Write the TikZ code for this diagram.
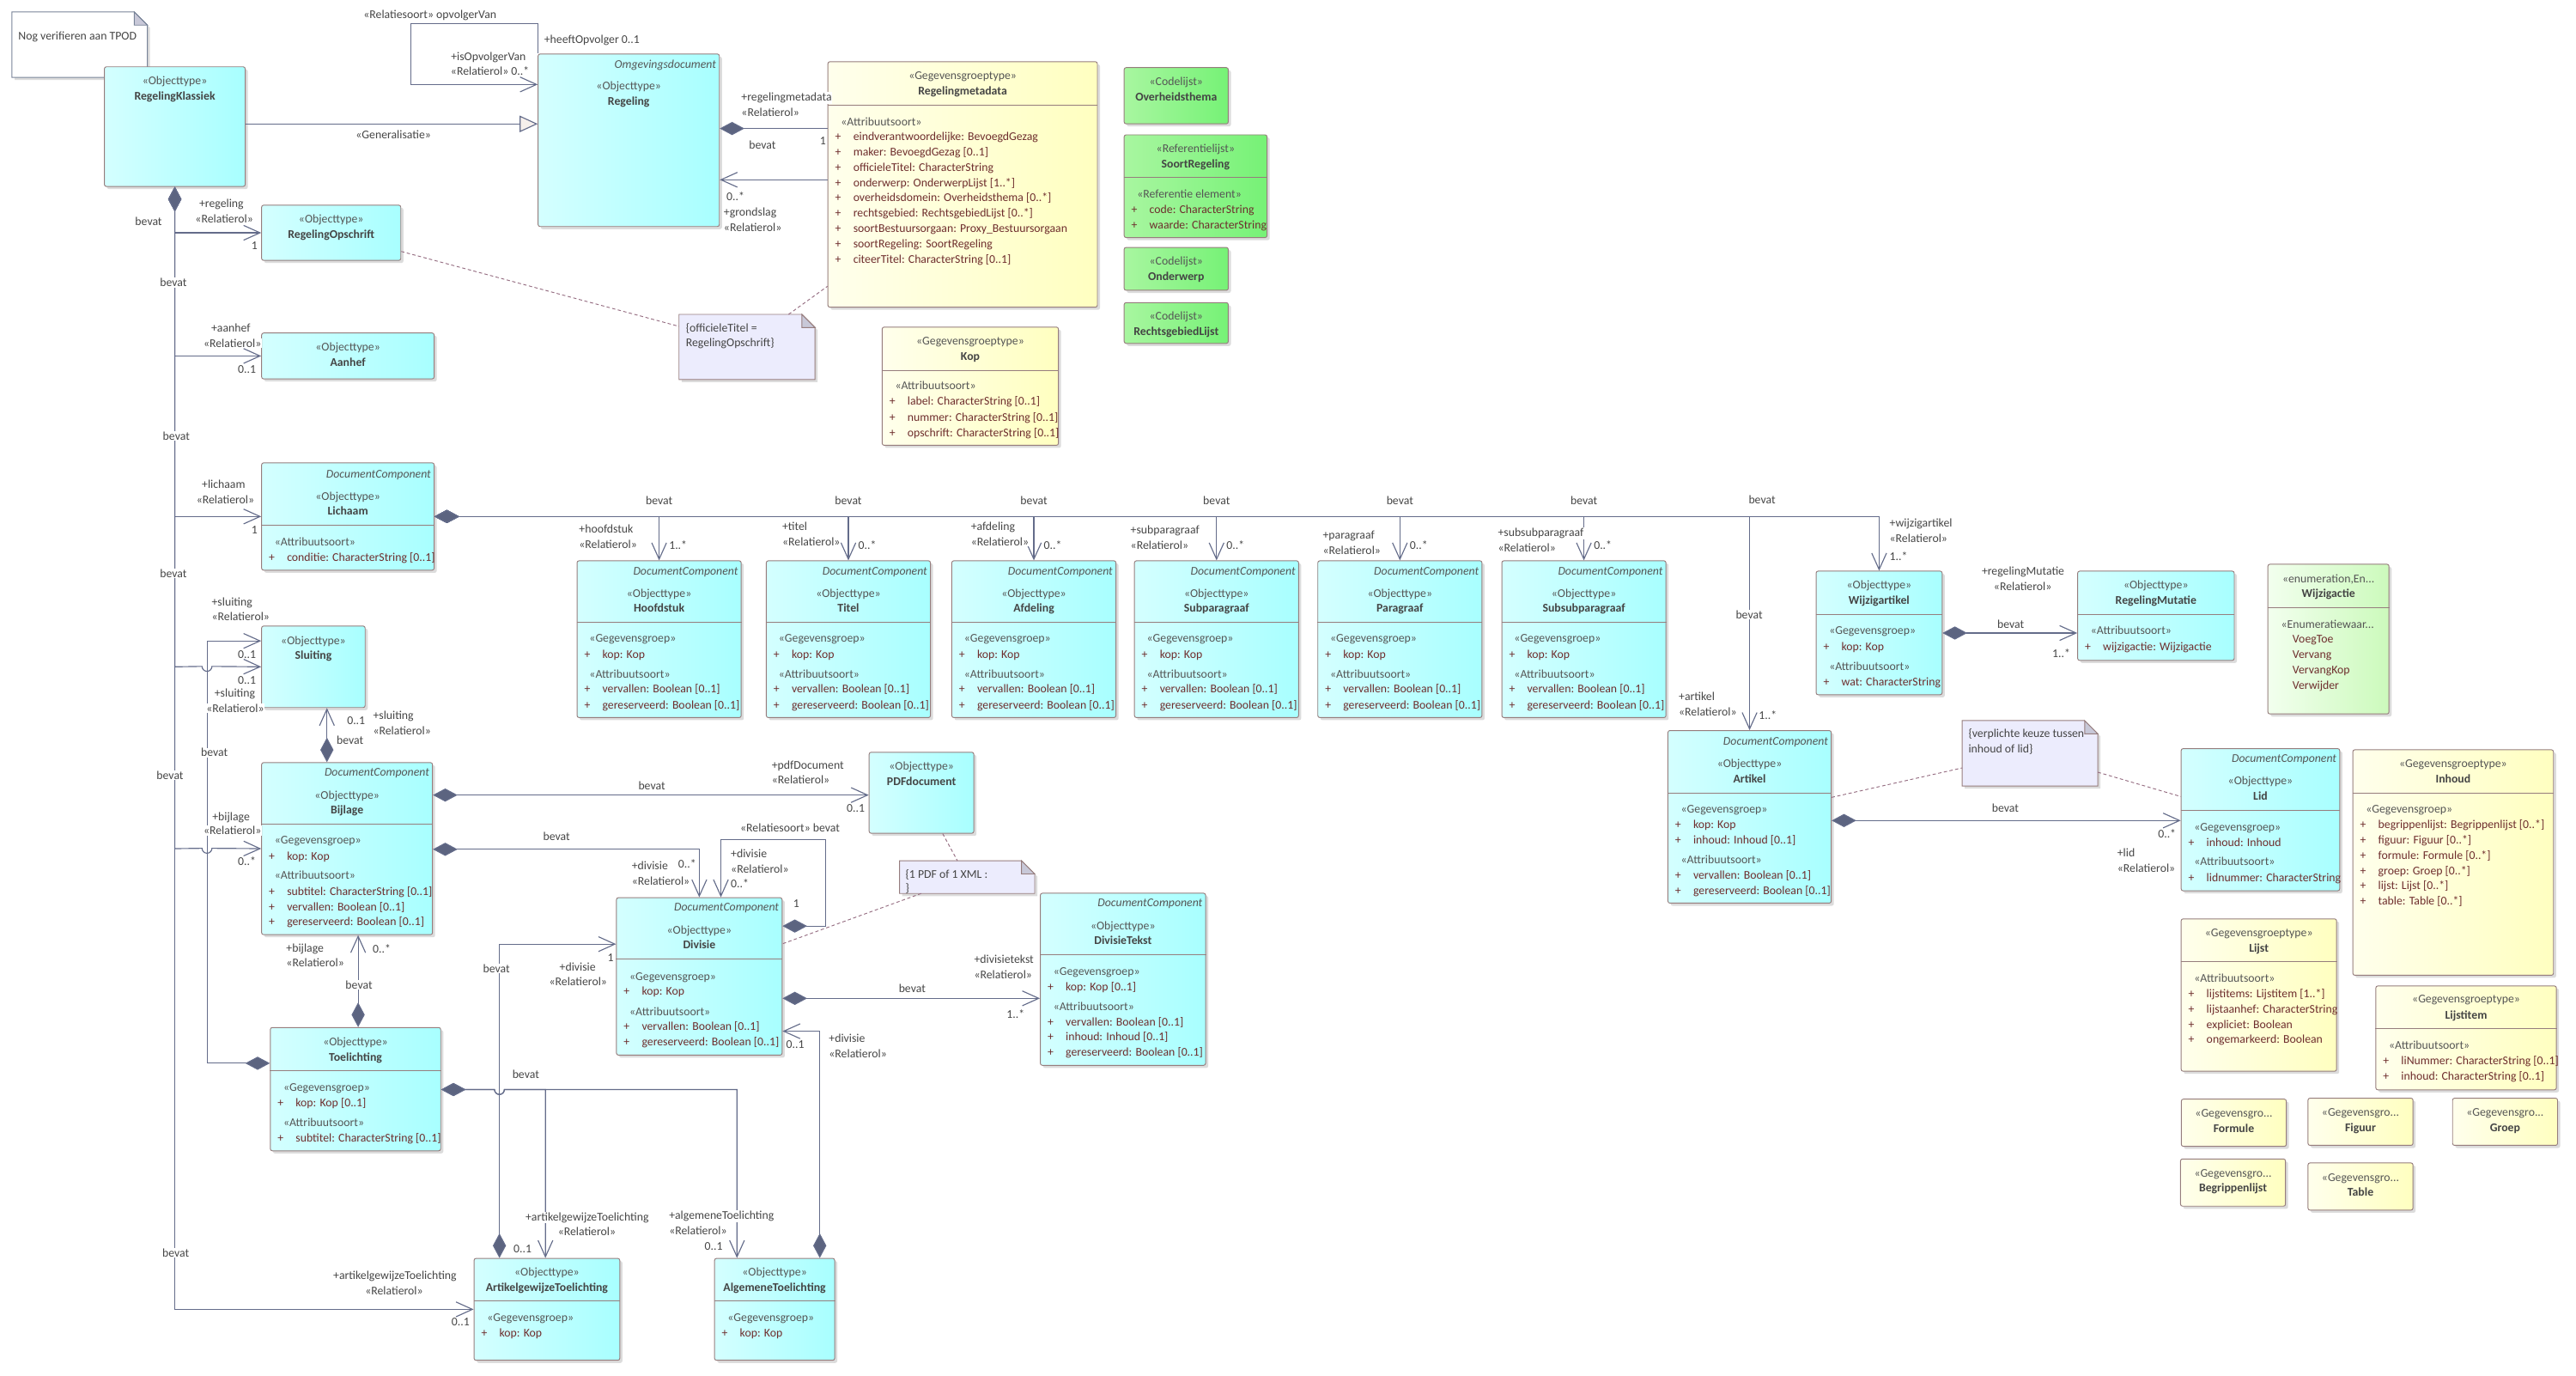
\documentclass[tikz,border=0pt]{standalone}
\usepackage{fontspec}
\setmainfont{Carlito}
\usetikzlibrary{arrows.meta,shadows}

\definecolor{cyanl}{RGB}{212,255,255}
\definecolor{cyanr}{RGB}{168,255,255}
\definecolor{yell}{RGB}{255,255,236}
\definecolor{yelr}{RGB}{255,255,192}
\definecolor{grnl}{RGB}{168,246,160}
\definecolor{grnr}{RGB}{118,242,118}
\definecolor{enml}{RGB}{242,255,238}
\definecolor{enmr}{RGB}{204,250,188}
\definecolor{notef}{RGB}{236,236,253}
\definecolor{foldf}{RGB}{200,200,216}
\definecolor{borderc}{RGB}{150,125,125}
\definecolor{tpodc}{RGB}{120,132,152}
\definecolor{linec}{RGB}{100,108,138}
\definecolor{diac}{RGB}{92,100,128}
\definecolor{genf}{RGB}{246,240,236}
\definecolor{stc}{RGB}{85,85,85}
\definecolor{namec}{RGB}{68,68,68}
\definecolor{attrc}{RGB}{110,45,45}
\definecolor{labelc}{RGB}{70,70,70}
\definecolor{dashc}{RGB}{150,110,130}

% attribute row: box left, y, text
\newcommand{\attrline}[3]{\node[attr] at (#1+4.5,#2) {+}; \node[attr] at (#1+15.5,#2) {#3};}
% note with folded corner: node, fill, border
\newcommand{\notefold}[3]{%
  \draw[draw=#3, fill=#2, line width=0.5pt, drop shadow={shadow xshift=1.6pt, shadow yshift=-1.6pt, opacity=0.3, fill=black!45}]
    (#1.south west) -- (#1.north west) -- ([xshift=-8pt]#1.north east) -- ([yshift=-8pt]#1.north east) -- (#1.south east) -- cycle;
  \draw[draw=#3, fill=foldf, line width=0.5pt]
    ([xshift=-8pt]#1.north east) -- ([xshift=-8pt,yshift=-8pt]#1.north east) -- ([yshift=-8pt]#1.north east) -- cycle;}

\begin{document}
\begin{tikzpicture}[x=1pt,y=-1pt,
  fsz/.style={font=\fontsize{7.2pt}{9pt}\selectfont},
  boxbase/.style={draw=borderc, line width=0.5pt, rounded corners=1.2pt, anchor=north west, inner sep=0pt,
    drop shadow={shadow xshift=1.6pt, shadow yshift=-1.6pt, opacity=0.3, fill=black!45}},
  cbox/.style={boxbase, left color=cyanl, right color=cyanr},
  ybox/.style={boxbase, left color=yell, right color=yelr},
  gbox/.style={boxbase, left color=grnl, right color=grnr},
  ebox/.style={boxbase, left color=enml, right color=enmr},
  notebox/.style={anchor=north west, inner sep=0pt},
  sep/.style={draw=borderc, line width=0.5pt},
  stereo/.style={fsz, inner sep=0pt, text=stc, anchor=mid},
  cname/.style={inner sep=0pt, text=namec, font=\fontsize{7.2pt}{9pt}\selectfont\bfseries, anchor=mid},
  dcomp/.style={inner sep=0pt, text=stc, font=\fontsize{7.2pt}{9pt}\selectfont\itshape, anchor=mid east, xshift=-2pt},
  cst/.style={fsz, inner sep=0pt, text=stc, anchor=mid west},
  attr/.style={fsz, inner sep=0pt, text=attrc, anchor=mid west},
  lbl/.style={fsz, inner sep=0.4pt, text=labelc, fill=white, anchor=mid west},
  lblmid/.style={lbl, anchor=mid},
  link/.style={draw=linec, line width=0.6pt},
  assoc/.style={link, -{Straight Barb[length=10pt,width=9pt]}},
  comp/.style={link, {Diamond[length=15pt,width=8pt,fill=diac]}-{Straight Barb[length=10pt,width=9pt]}},
  componly/.style={link, {Diamond[length=15pt,width=8pt,fill=diac]}-},
  gen/.style={link, -{Triangle[length=11pt,width=10pt,fill=genf]}},
  notelink/.style={draw=dashc, line width=0.5pt, dash pattern=on 2pt off 1.5pt}]
\useasboundingbox (0,0) rectangle (1568,837);

%% top row
\node[notebox, minimum width=82pt, minimum height=39.4pt] (tpod) at (7.3,7.3) {};
\notefold{tpod}{white}{tpodc}
\node[cst, text=namec] at (11,21.8) {Nog verifieren aan TPOD};

\node[cbox, minimum width=85.7pt, minimum height=72.8pt] (klassiek) at (63.3,40.4) {};
\node[stereo] at (klassiek.north |- 0,49.1) {«Objecttype»};
\node[cname] at (klassiek.north |- 0,58.4) {RegelingKlassiek};

\node[cbox, minimum width=110.3pt, minimum height=105pt] (regeling) at (327.3,32.6) {};
\node[dcomp] at (regeling.east |- 0,39.2) {Omgevingsdocument};
\node[stereo] at (regeling.north |- 0,52.4) {«Objecttype»};
\node[cname] at (regeling.north |- 0,61.5) {Regeling};

\node[ybox, minimum width=164pt, minimum height=149.4pt] (metadata) at (503.7,37.3) {};
\draw[sep] (metadata.west |- 0,64) -- (metadata.east |- 0,64);
\node[stereo] at (metadata.north |- 0,45.7) {«Gegevensgroeptype»};
\node[cname] at (metadata.north |- 0,55.3) {Regelingmetadata};
\node[cst] at (511.7,74.1) {«Attribuutsoort»};
\attrline{503.7}{83.1}{eindverantwoordelijke: BevoegdGezag}
\attrline{503.7}{92.4}{maker: BevoegdGezag [0..1]}
\attrline{503.7}{101.7}{officieleTitel: CharacterString}
\attrline{503.7}{111.1}{onderwerp: OnderwerpLijst [1..*]}
\attrline{503.7}{120.4}{overheidsdomein: Overheidsthema [0..*]}
\attrline{503.7}{129.7}{rechtsgebied: RechtsgebiedLijst [0..*]}
\attrline{503.7}{139.0}{soortBestuursorgaan: Proxy\_Bestuursorgaan}
\attrline{503.7}{148.4}{soortRegeling: SoortRegeling}
\attrline{503.7}{157.7}{citeerTitel: CharacterString [0..1]}

\node[gbox, minimum width=63.4pt, minimum height=34.2pt] (overheidsthema) at (684,40.9) {};
\node[stereo] at (overheidsthema.north |- 0,49.5) {«Codelijst»};
\node[cname] at (overheidsthema.north |- 0,59) {Overheidsthema};
\node[gbox, minimum width=87pt, minimum height=62.5pt] (soortregeling) at (684,81.8) {};
\draw[sep] (soortregeling.west |- 0,107.9) -- (soortregeling.east |- 0,107.9);
\node[stereo] at (soortregeling.north |- 0,90.3) {«Referentielijst»};
\node[cname] at (soortregeling.north |- 0,99.9) {SoortRegeling};
\node[cst] at (692,118) {«Referentie element»};
\attrline{684}{127.5}{code: CharacterString}
\attrline{684}{136.8}{waarde: CharacterString}
\node[gbox, minimum width=63.4pt, minimum height=26.1pt] (onderwerp) at (684,150.3) {};
\node[stereo] at (onderwerp.north |- 0,158.7) {«Codelijst»};
\node[cname] at (onderwerp.north |- 0,168.2) {Onderwerp};
\node[gbox, minimum width=63.4pt, minimum height=24.8pt] (rechtsgebied) at (684,183.9) {};
\node[stereo] at (rechtsgebied.north |- 0,192.3) {«Codelijst»};
\node[cname] at (rechtsgebied.north |- 0,201.6) {RechtsgebiedLijst};

\node[ybox, minimum width=107.3pt, minimum height=71.9pt] (kop) at (536.7,198.8) {};
\draw[sep] (kop.west |- 0,225.5) -- (kop.east |- 0,225.5);
\node[stereo] at (kop.north |- 0,207.4) {«Gegevensgroeptype»};
\node[cname] at (kop.north |- 0,216.9) {Kop};
\node[cst] at (544.7,234.8) {«Attribuutsoort»};
\attrline{536.7}{244.3}{label: CharacterString [0..1]}
\attrline{536.7}{253.9}{nummer: CharacterString [0..1]}
\attrline{536.7}{263.4}{opschrift: CharacterString [0..1]}

\node[notebox, minimum width=82.4pt, minimum height=39.2pt] (onote) at (413.3,191.3) {};
\notefold{onote}{notef}{borderc}
\node[cst, text=namec] at (417.3,199.5) {\{officieleTitel =};
\node[cst, text=namec] at (417.3,208.7) {RegelingOpschrift\}};

%% left column
\node[cbox, minimum width=84.7pt, minimum height=33.6pt] (opschrift) at (159,124.6) {};
\node[stereo] at (opschrift.north |- 0,133.3) {«Objecttype»};
\node[cname] at (opschrift.north |- 0,142.5) {RegelingOpschrift};

\node[cbox, minimum width=105pt, minimum height=27.9pt] (aanhef) at (159,202.4) {};
\node[stereo] at (aanhef.north |- 0,211) {«Objecttype»};
\node[cname] at (aanhef.north |- 0,220.4) {Aanhef};

\node[cbox, minimum width=105pt, minimum height=65.3pt] (lichaam) at (159,281.4) {};
\draw[sep] (lichaam.west |- 0,319.5) -- (lichaam.east |- 0,319.5);
\node[dcomp] at (lichaam.east |- 0,288.3) {DocumentComponent};
\node[stereo] at (lichaam.north |- 0,301.9) {«Objecttype»};
\node[cname] at (lichaam.north |- 0,311) {Lichaam};
\node[cst] at (167,329.6) {«Attribuutsoort»};
\attrline{159}{339.2}{conditie: CharacterString [0..1]}

\node[cbox, minimum width=63pt, minimum height=49.6pt] (sluiting) at (159,380.7) {};
\node[stereo] at (sluiting.north |- 0,389.7) {«Objecttype»};
\node[cname] at (sluiting.north |- 0,398.6) {Sluiting};

\node[cbox, minimum width=104pt, minimum height=104.7pt] (bijlage) at (159,463.8) {};
\draw[sep] (bijlage.west |- 0,501.3) -- (bijlage.east |- 0,501.3);
\node[dcomp] at (bijlage.east |- 0,470) {DocumentComponent};
\node[stereo] at (bijlage.north |- 0,483.8) {«Objecttype»};
\node[cname] at (bijlage.north |- 0,493) {Bijlage};
\node[cst] at (167,511.3) {«Gegevensgroep»};
\attrline{159}{521}{kop: Kop}
\node[cst] at (167,532.8) {«Attribuutsoort»};
\attrline{159}{542.3}{subtitel: CharacterString [0..1]}
\attrline{159}{551.8}{vervallen: Boolean [0..1]}
\attrline{159}{561}{gereserveerd: Boolean [0..1]}

\node[cbox, minimum width=103.7pt, minimum height=75pt] (toelichting) at (164.3,625) {};
\draw[sep] (toelichting.west |- 0,651.3) -- (toelichting.east |- 0,651.3);
\node[stereo] at (toelichting.north |- 0,633.8) {«Objecttype»};
\node[cname] at (toelichting.north |- 0,643.3) {Toelichting};
\node[cst] at (172.3,661.5) {«Gegevensgroep»};
\attrline{164.3}{671}{kop: Kop [0..1]}
\node[cst] at (172.3,683) {«Attribuutsoort»};
\attrline{164.3}{692.5}{subtitel: CharacterString [0..1]}

\node[cbox, minimum width=100.8pt, minimum height=95.8pt] (divisie) at (375,546) {};
\draw[sep] (divisie.west |- 0,583.8) -- (divisie.east |- 0,583.8);
\node[dcomp] at (divisie.east |- 0,552) {DocumentComponent};
\node[stereo] at (divisie.north |- 0,566) {«Objecttype»};
\node[cname] at (divisie.north |- 0,575) {Divisie};
\node[cst] at (383,594.3) {«Gegevensgroep»};
\attrline{375}{603}{kop: Kop}
\node[cst] at (383,615.5) {«Attribuutsoort»};
\attrline{375}{624.3}{vervallen: Boolean [0..1]}
\attrline{375}{633.8}{gereserveerd: Boolean [0..1]}

\node[cbox, minimum width=63.7pt, minimum height=49.3pt] (pdf) at (528.8,457.5) {};
\node[stereo] at (pdf.north |- 0,466) {«Objecttype»};
\node[cname] at (pdf.north |- 0,475.5) {PDFdocument};

\node[notebox, minimum width=81.9pt, minimum height=19.5pt] (pdfnote) at (547.5,523.8) {};
\notefold{pdfnote}{notef}{borderc}
\node[cst, text=namec] at (551,531.8) {\{1 PDF of 1 XML :};
\node[cst, text=namec] at (551,540.3) {\}};

\node[cbox, minimum width=100.6pt, minimum height=104.7pt] (divtekst) at (633,543.3) {};
\draw[sep] (divtekst.west |- 0,581) -- (divtekst.east |- 0,581);
\node[dcomp] at (divtekst.east |- 0,549.5) {DocumentComponent};
\node[stereo] at (divtekst.north |- 0,563.3) {«Objecttype»};
\node[cname] at (divtekst.north |- 0,572.5) {DivisieTekst};
\node[cst] at (641,591) {«Gegevensgroep»};
\attrline{633}{600.3}{kop: Kop [0..1]}
\node[cst] at (641,612.3) {«Attribuutsoort»};
\attrline{633}{621.8}{vervallen: Boolean [0..1]}
\attrline{633}{631}{inhoud: Inhoud [0..1]}
\attrline{633}{640}{gereserveerd: Boolean [0..1]}

\node[cbox, minimum width=88.7pt, minimum height=62pt] (artgewijze) at (288.3,765.5) {};
\draw[sep] (artgewijze.west |- 0,791.3) -- (artgewijze.east |- 0,791.3);
\node[stereo] at (artgewijze.north |- 0,773.8) {«Objecttype»};
\node[cname] at (artgewijze.north |- 0,783.3) {ArtikelgewijzeToelichting};
\node[cst] at (296.3,801.8) {«Gegevensgroep»};
\attrline{288.3}{811}{kop: Kop}

\node[cbox, minimum width=73.1pt, minimum height=62pt] (algemene) at (434.7,765.5) {};
\draw[sep] (algemene.west |- 0,791.3) -- (algemene.east |- 0,791.3);
\node[stereo] at (algemene.north |- 0,773.8) {«Objecttype»};
\node[cname] at (algemene.north |- 0,783.3) {AlgemeneToelichting};
\node[cst] at (442.7,801.8) {«Gegevensgroep»};
\attrline{434.7}{811}{kop: Kop}

%% document components under Lichaam
\foreach \nm/\xx/\ttl in {hoofdstuk/351/Hoofdstuk, titel/466.2/Titel, afdeling/579.1/Afdeling,
    subparagraaf/690.3/Subparagraaf, paragraaf/801.9/Paragraaf, subsubparagraaf/913.9/Subsubparagraaf}{
  \node[cbox, minimum width=99.9pt, minimum height=95.4pt] (\nm) at (\xx,341) {};
  \draw[sep] (\nm.west |- 0,378.4) -- (\nm.east |- 0,378.4);
  \node[dcomp] at (\nm.east |- 0,347.6) {DocumentComponent};
  \node[stereo] at (\nm.north |- 0,361) {«Objecttype»};
  \node[cname] at (\nm.north |- 0,370.2) {\ttl};
  \node[cst] at (\xx+7.6,388.5) {«Gegevensgroep»};
  \attrline{\xx}{398.1}{kop: Kop}
  \node[cst] at (\xx+7.6,410.3) {«Attribuutsoort»};
  \attrline{\xx}{419.4}{vervallen: Boolean [0..1]}
  \attrline{\xx}{429}{gereserveerd: Boolean [0..1]}
}

%% right part
\node[cbox, minimum width=76.7pt, minimum height=75.2pt] (wijzig) at (1105.2,347.3) {};
\draw[sep] (wijzig.west |- 0,374.1) -- (wijzig.east |- 0,374.1);
\node[stereo] at (wijzig.north |- 0,355.8) {«Objecttype»};
\node[cname] at (wijzig.north |- 0,365.2) {Wijzigartikel};
\node[cst] at (1113.2,383.8) {«Gegevensgroep»};
\attrline{1105.2}{393.4}{kop: Kop}
\node[cst] at (1113.2,405.4) {«Attribuutsoort»};
\attrline{1105.2}{415}{wat: CharacterString}

\node[cbox, minimum width=95.3pt, minimum height=54.3pt] (mutatie) at (1264.4,347.3) {};
\draw[sep] (mutatie.west |- 0,374.1) -- (mutatie.east |- 0,374.1);
\node[stereo] at (mutatie.north |- 0,355.8) {«Objecttype»};
\node[cname] at (mutatie.north |- 0,365.2) {RegelingMutatie};
\node[cst] at (1272.4,383.8) {«Attribuutsoort»};
\attrline{1264.4}{393.4}{wijzigactie: Wijzigactie}

\node[ebox, minimum width=73.7pt, minimum height=91.1pt] (wijzigactie) at (1380.2,343.1) {};
\draw[sep] (wijzigactie.west |- 0,369.7) -- (wijzigactie.east |- 0,369.7);
\node[stereo] at (wijzigactie.north |- 0,352) {«enumeration,En...};
\node[cname] at (wijzigactie.north |- 0,361.2) {Wijzigactie};
\node[cst] at (1388.3,380) {«Enumeratiewaar...};
\node[attr] at (1395.3,388.7) {VoegToe};
\node[attr] at (1395.3,398.3) {Vervang};
\node[attr] at (1395.3,407.7) {VervangKop};
\node[attr] at (1395.3,417) {Verwijder};

\node[cbox, minimum width=99.4pt, minimum height=105pt] (artikel) at (1015,444.3) {};
\draw[sep] (artikel.west |- 0,482.6) -- (artikel.east |- 0,482.6);
\node[dcomp] at (artikel.east |- 0,450.9) {DocumentComponent};
\node[stereo] at (artikel.north |- 0,464.5) {«Objecttype»};
\node[cname] at (artikel.north |- 0,473.9) {Artikel};
\node[cst] at (1023,492.2) {«Gegevensgroep»};
\attrline{1015}{501.8}{kop: Kop}
\attrline{1015}{511}{inhoud: Inhoud [0..1]}
\node[cst] at (1023,523) {«Attribuutsoort»};
\attrline{1015}{532.6}{vervallen: Boolean [0..1]}
\attrline{1015}{542}{gereserveerd: Boolean [0..1]}

\node[notebox, minimum width=82.2pt, minimum height=39.4pt] (knote) at (1194.3,438.5) {};
\notefold{knote}{notef}{borderc}
\node[cst, text=namec] at (1198,446.5) {\{verplichte keuze tussen};
\node[cst, text=namec] at (1198,455.9) {inhoud of lid\}};

\node[cbox, minimum width=96.5pt, minimum height=86.5pt] (lid) at (1327.4,455.3) {};
\draw[sep] (lid.west |- 0,493) -- (lid.east |- 0,493);
\node[dcomp] at (lid.east |- 0,461.7) {DocumentComponent};
\node[stereo] at (lid.north |- 0,475.3) {«Objecttype»};
\node[cname] at (lid.north |- 0,484.3) {Lid};
\node[cst] at (1335.4,503.2) {«Gegevensgroep»};
\attrline{1327.4}{512.6}{inhoud: Inhoud}
\node[cst] at (1335.4,524.4) {«Attribuutsoort»};
\attrline{1327.4}{534}{lidnummer: CharacterString}

\node[ybox, minimum width=122.1pt, minimum height=137.2pt] (inhoud) at (1431.9,456) {};
\draw[sep] (inhoud.west |- 0,482.6) -- (inhoud.east |- 0,482.6);
\node[stereo] at (inhoud.north |- 0,464.7) {«Gegevensgroeptype»};
\node[cname] at (inhoud.north |- 0,473.9) {Inhoud};
\node[cst] at (1439.9,492.2) {«Gegevensgroep»};
\attrline{1431.9}{501.8}{begrippenlijst: Begrippenlijst [0..*]}
\attrline{1431.9}{511}{figuur: Figuur [0..*]}
\attrline{1431.9}{520.4}{formule: Formule [0..*]}
\attrline{1431.9}{529.8}{groep: Groep [0..*]}
\attrline{1431.9}{538.9}{lijst: Lijst [0..*]}
\attrline{1431.9}{548.1}{table: Table [0..*]}

\node[ybox, minimum width=94.6pt, minimum height=92.7pt] (lijst) at (1327.4,558.9) {};
\draw[sep] (lijst.west |- 0,585) -- (lijst.east |- 0,585);
\node[stereo] at (lijst.north |- 0,567.4) {«Gegevensgroeptype»};
\node[cname] at (lijst.north |- 0,576.8) {Lijst};
\node[cst] at (1335.4,595.3) {«Attribuutsoort»};
\attrline{1327.4}{604.5}{lijstitems: Lijstitem [1..*]}
\attrline{1327.4}{614}{lijstaanhef: CharacterString}
\attrline{1327.4}{623.4}{expliciet: Boolean}
\attrline{1327.4}{632.4}{ongemarkeerd: Boolean}

\node[ybox, minimum width=109.9pt, minimum height=63.2pt] (lijstitem) at (1445.9,599.7) {};
\draw[sep] (lijstitem.west |- 0,626) -- (lijstitem.east |- 0,626);
\node[stereo] at (lijstitem.north |- 0,608) {«Gegevensgroeptype»};
\node[cname] at (lijstitem.north |- 0,617.6) {Lijstitem};
\node[cst] at (1453.9,635.9) {«Attribuutsoort»};
\attrline{1445.9}{645.5}{liNummer: CharacterString [0..1]}
\attrline{1445.9}{654.7}{inhoud: CharacterString [0..1]}

\foreach \nm/\xx/\yy/\ttl in {formule/1327.5/668.6/Formule, figuur/1404.6/668/Figuur, groep/1492.6/668/Groep,
    begrippenlijst/1327/705/Begrippenlijst, table/1404.6/707.4/Table}{
  \node[ybox, minimum width=63.9pt, minimum height=28.7pt] (\nm) at (\xx,\yy) {};
  \node[stereo] at (\nm.north |- 0,\yy+8.9) {«Gegevensgro...};
  \node[cname] at (\nm.north |- 0,\yy+18) {\ttl};
}

%% connectors
\draw[gen] (klassiek.east |- 0,75.4) -- (regeling.west |- 0,75.4);
\draw[assoc] (regeling.north west) -- (327.3,14.3) -- (250,14.3) -- (250,51.4) -- (regeling.west |- 0,51.4);
\draw[componly] (regeling.east |- 0,78.2) -- (metadata.west |- 0,78.2);
\draw[assoc] (metadata.west |- 0,109.4) -- (regeling.east |- 0,109.4);

\draw[comp] (klassiek.south) |- (opschrift.west);
\draw[comp] (klassiek.south) |- (aanhef.west);
\draw[comp] (klassiek.south) |- (lichaam.west);
\draw[comp] (klassiek.south) -- (klassiek.south |- sluiting.west) -- (123,405.5) arc(180:0:3) -- (sluiting.west);
\draw[comp] (klassiek.south) -- (klassiek.south |- bijlage.west) -- (123,516.2) arc(180:0:3) -- (bijlage.west);
\draw[comp] (klassiek.south) |- (artgewijze.west);

\draw[comp] (toelichting.west |- 0,647) -- (126,647) -- (126,390) -- (sluiting.west |- 0,390);
\draw[comp] (toelichting.north -| 218,0) -- (bijlage.south -| 218,0);
\draw[comp] (bijlage.north -| 199,0) -- (sluiting.south -| 199,0);
\draw[comp] (bijlage.east |- 0,483.8) -- (pdf.west |- 0,483.8);
\draw[comp] (bijlage.east |- 0,516.8) -| (divisie.north);
\draw[comp] (divisie.east |- 0,563.5) -- (502.7,563.5) -- (502.7,511) -- (438.8,511) -- (divisie.north -| 438.8,0);
\draw[comp] (divisie.east |- 0,607.5) -- (divtekst.west |- 0,607.5);
\draw[comp] (artgewijze.north -| 304,0) -- (304,574.5) -- (divisie.west |- 0,574.5);
\draw[comp] (algemene.north -| 499,0) -- (499,627.5) -- (divisie.east |- 0,627.5);
\draw[comp] (toelichting.east |- 0,663) -- (301,663) arc(180:0:3) -- (332,663) -- (artgewijze.north -| 332,0);
\draw[comp] (toelichting.east |- 0,663) -- (301,663) arc(180:0:3) -- (448.6,663) -- (algemene.north -| 448.6,0);

\draw[comp] (lichaam.east) -| (artikel.north);
\draw[comp] (lichaam.east) -| (wijzig.north);
\draw[comp] (wijzig.east |- 0,385.2) -- (mutatie.west |- 0,385.2);
\draw[comp] (artikel.east |- 0,499.3) -- (lid.west |- 0,499.3);

\draw[notelink] (opschrift.east |- 0,153) -- (onote.west |- 0,198.6);
\draw[notelink] (onote.north -| 480,0) -- (metadata.west |- 0,174.2);
\draw[notelink] (pdf.south -| 573.8,0) -- (pdfnote.north -| 582.8,0);
\draw[notelink] (pdfnote.south -| 560.7,0) -- (divisie.east |- 0,574.3);
\draw[notelink] (artikel.east |- 0,485.2) -- (knote.west |- 0,467.3);
\draw[notelink] (knote.east |- 0,469.9) -- (lid.west |- 0,484.7);

\foreach \nm/\role/\rx/\ry/\mult in {hoofdstuk/hoofdstuk/351.9/322/1..*, titel/titel/475.6/320.6/0..*,
    afdeling/afdeling/590.4/320.2/0..*, subparagraaf/subparagraaf/687.6/322.3/0..*,
    paragraaf/paragraaf/804.6/325.5/0..*, subsubparagraaf/subsubparagraaf/911.2/324.1/0..*}{
  \draw[comp] (lichaam.east) -| (\nm.north);
  \node[lblmid] at (\nm.north |- 0,304.6) {bevat};
  \node[lbl] at (\rx,\ry) {+\role};
  \node[lbl] at (\rx,\ry+9.4) {«Relatierol»};
  \node[lbl, xshift=5.5pt] at (\nm.north |- 0,331.9) {\mult};
}

%% labels
\node[lbl] at (220.7,8.7) {«Relatiesoort» opvolgerVan};
\node[lbl] at (330.7,23.9) {+heeftOpvolger 0..1};
\node[lbl, anchor=mid east] at (320.7,34.3) {+isOpvolgerVan};
\node[lbl, anchor=mid east] at (322.7,43.6) {«Relatierol» 0..*};
\node[lbl] at (216,81.9) {«Generalisatie»};
\node[lbl] at (450.7,59.2) {+regelingmetadata};
\node[lbl] at (450.7,68.3) {«Relatierol»};
\node[lbl] at (455.3,88.5) {bevat};
\node[lbl] at (498.5,85.9) {1};
\node[lbl] at (441.7,119.9) {0..*};
\node[lbl] at (440,128.9) {+grondslag};
\node[lbl] at (440,138.3) {«Relatierol»};

\node[lbl] at (120.7,124) {+regeling};
\node[lbl] at (118.3,133.3) {«Relatierol»};
\node[lbl] at (152.5,149.3) {1};
\node[lbl] at (81.7,135) {bevat};
\node[lblmid] at (105.5,172) {bevat};
\node[lbl] at (128,199.5) {+aanhef};
\node[lbl] at (123.3,208.9) {«Relatierol»};
\node[lbl] at (144.3,224.5) {0..1};
\node[lblmid] at (107.3,265.3) {bevat};
\node[lbl] at (122.3,294.6) {+lichaam};
\node[lbl] at (119,304) {«Relatierol»};
\node[lbl] at (152.5,322.3) {1};
\node[lblmid] at (105.5,349) {bevat};
\node[lbl] at (128.3,366.4) {+sluiting};
\node[lbl] at (128.3,375.1) {«Relatierol»};
\node[lbl] at (144.3,398.1) {0..1};
\node[lbl] at (144.3,413.8) {0..1};
\node[lbl] at (130,421.6) {+sluiting};
\node[lbl] at (125,431) {«Relatierol»};
\node[lbl] at (210.7,438.7) {0..1};
\node[lbl] at (226.5,435.2) {+sluiting};
\node[lbl] at (226.5,444.6) {«Relatierol»};
\node[lbl] at (204.3,450.5) {bevat};
\node[lblmid] at (130.5,458) {bevat};
\node[lblmid] at (103.5,471.8) {bevat};
\node[lbl] at (128.7,497) {+bijlage};
\node[lbl] at (123.3,505.5) {«Relatierol»};
\node[lbl] at (144.3,524.3) {0..*};
\node[lbl] at (173.7,577) {+bijlage};
\node[lbl] at (173.7,586) {«Relatierol»};
\node[lbl] at (226.3,577.3) {0..*};
\node[lblmid] at (218.5,599.3) {bevat};
\node[lbl] at (388,478) {bevat};
\node[lbl] at (469.2,465.5) {+pdfDocument};
\node[lbl] at (469.2,474.3) {«Relatierol»};
\node[lbl] at (514.8,491.8) {0..1};
\node[lbl] at (330,508.8) {bevat};
\node[lbl] at (384,526.8) {+divisie};
\node[lbl] at (384,536.3) {«Relatierol»};
\node[lbl] at (412.3,526) {0..*};
\node[lbl] at (450,503.8) {«Relatiesoort» bevat};
\node[lbl] at (444.3,519.3) {+divisie};
\node[lbl] at (444.3,528.8) {«Relatierol»};
\node[lbl] at (444.3,538) {0..*};
\node[lbl] at (482.3,549.8) {1};
\node[lblmid] at (302.2,589.3) {bevat};
\node[lbl] at (340,588.5) {+divisie};
\node[lbl] at (333.7,597.3) {«Relatierol»};
\node[lbl] at (369.3,582.5) {1};
\node[lbl] at (592.4,583.8) {+divisietekst};
\node[lbl] at (592.4,593) {«Relatierol»};
\node[lbl] at (546.5,601.8) {bevat};
\node[lbl] at (612.2,617.3) {1..*};
\node[lbl] at (504,631.8) {+divisie};
\node[lbl] at (504,641.3) {«Relatierol»};
\node[lbl] at (478,635.5) {0..1};
\node[lbl] at (311.3,653.8) {bevat};
\node[lbl] at (319.3,740.5) {+artikelgewijzeToelichting};
\node[lbl] at (339,749.3) {«Relatierol»};
\node[lbl] at (312,759.8) {0..1};
\node[lbl] at (406.7,739.5) {+algemeneToelichting};
\node[lbl] at (406.7,748.8) {«Relatierol»};
\node[lbl] at (428.3,758.3) {0..1};
\node[lblmid] at (107,762.5) {bevat};
\node[lbl] at (202.3,776.3) {+artikelgewijzeToelichting};
\node[lbl] at (221.7,785.3) {«Relatierol»};
\node[lbl] at (274.3,804.5) {0..1};

\node[lbl] at (1063.8,304) {bevat};
\node[lbl] at (1149.6,318.3) {+wijzigartikel};
\node[lbl] at (1149.6,327.6) {«Relatierol»};
\node[lbl] at (1149.6,338.9) {1..*};
\node[lblmid] at (1064.7,374.1) {bevat};
\node[lbl] at (1021.3,423.7) {+artikel};
\node[lbl] at (1021.3,433.1) {«Relatierol»};
\node[lbl] at (1070,435.6) {1..*};
\node[lbl] at (1205.7,347.6) {+regelingMutatie};
\node[lbl] at (1213,357) {«Relatierol»};
\node[lbl] at (1215.2,379.8) {bevat};
\node[lbl] at (1248.6,397.8) {1..*};
\node[lbl] at (1211.9,491.7) {bevat};
\node[lbl] at (1313,507.3) {0..*};
\node[lbl] at (1288.2,518.8) {+lid};
\node[lbl] at (1288.2,528.4) {«Relatierol»};
\end{tikzpicture}
\end{document}
